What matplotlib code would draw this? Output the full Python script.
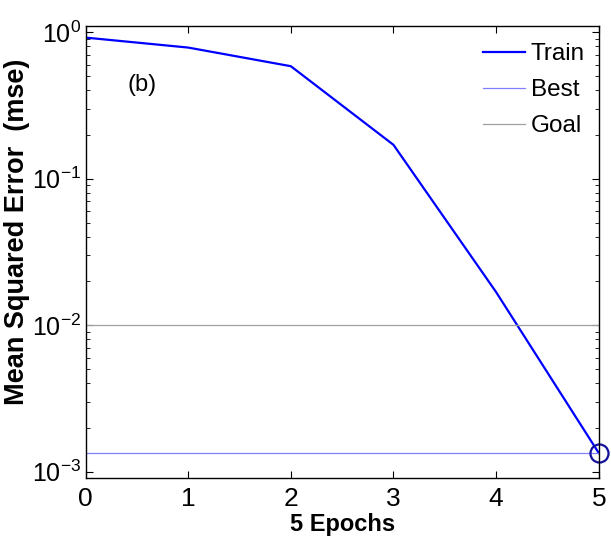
import matplotlib
matplotlib.use('Agg')
from matplotlib import pyplot as plt
from matplotlib.ticker import LogLocator, NullFormatter

plt.rcParams['font.family'] = ['Liberation Sans', 'DejaVu Sans']
plt.rcParams['mathtext.fontset'] = 'custom'
plt.rcParams['mathtext.rm'] = 'Liberation Sans'
plt.rcParams['mathtext.default'] = 'regular'

# data
epochs = [0, 1, 2, 3, 4, 5]
train_mse = [0.917, 0.784, 0.585, 0.170, 0.0168, 0.00134]
best_mse = 0.00134
best_epoch = 5
goal_mse = 0.01
xticks = [0, 1, 2, 3, 4, 5]

fig = plt.figure(figsize=(6.11, 5.5), dpi=100)
ax = fig.add_axes([0.140, 0.1315, 0.840, 0.8212])

ax.plot(epochs, train_mse, color='#0000ff', linewidth=1.6, label='Train')
ax.axhline(best_mse, color='#8080ff', linewidth=0.9, label='Best')
ax.axhline(goal_mse, color='#a0a0a0', linewidth=0.9, label='Goal')
ax.plot([best_epoch], [best_mse], marker='o', markersize=13, markerfacecolor='none',
        markeredgecolor='#10109a', markeredgewidth=1.6, linestyle='None', clip_on=False)

ax.set_yscale('log')
ax.set_xlim(0, 5)
ax.set_ylim(9.1e-4, 1.1)
ax.set_xticks(xticks)
ax.yaxis.set_major_locator(LogLocator(base=10, numticks=10))
ax.yaxis.set_minor_locator(LogLocator(base=10, subs=range(2, 10), numticks=20))
ax.yaxis.set_minor_formatter(NullFormatter())

ax.tick_params(which='both', direction='in', top=True, right=True, labelsize=19)
ax.tick_params(axis='x', pad=7)
ax.tick_params(axis='y', pad=3, labelsize=18)
ax.tick_params(which='major', length=5, width=0.8)
ax.tick_params(which='minor', length=3, width=0.6)
for s in ax.spines.values():
    s.set_linewidth(1.0)

ax.set_xlabel('5 Epochs', fontsize=17, fontweight='bold', labelpad=1)
ax.set_ylabel('Mean Squared Error  (mse)', fontsize=19.5, fontweight='bold')
ax.yaxis.set_label_coords(-0.108, 0.544)

ax.text(0.55, 0.436, '(b)', fontsize=17, ha='center', va='center')

ax.legend(loc='upper right', frameon=False, fontsize=17.5, handlelength=1.7,
          handletextpad=0.25, labelspacing=0.58, borderaxespad=0.3,
          bbox_to_anchor=(1.006, 1.0))

fig.savefig('out.png', dpi=100)
